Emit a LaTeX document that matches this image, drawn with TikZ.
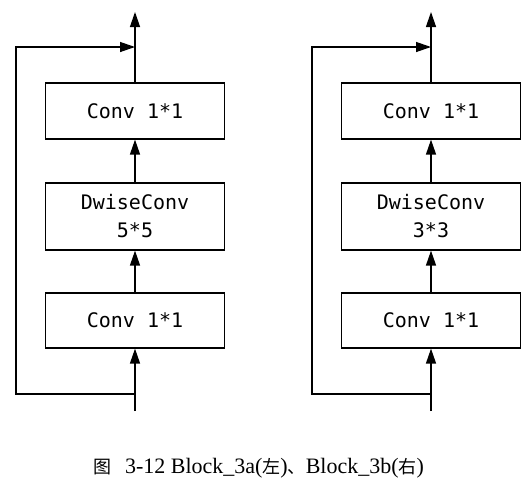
\documentclass[tikz,border=0pt]{standalone}
\usepackage{fontspec}
\setmainfont{Liberation Serif}
\newfontfamily\boxfont{DejaVu Sans Mono}
\newfontfamily\cjk{Noto Sans CJK SC}
\usetikzlibrary{arrows.meta}

\begin{document}
\begin{tikzpicture}[x=1pt,y=-1pt,
    every node/.style={font=\boxfont\fontsize{20}{28}\selectfont},
    conv/.style={draw,line width=1.2pt,minimum width=179pt,inner sep=0pt,align=center},
    flow/.style={line width=1.3pt,-{Triangle[length=15pt,width=10pt]}},
  ]
  \path[use as bounding box] (0,0) rectangle (529,491);
  % Block_3a
  \node[conv,minimum height=55pt] (a1) at (135,320.5) {Conv 1*1};
  \node[conv,minimum height=67pt] (a2) at (135,216.5) {DwiseConv\\5*5};
  \node[conv,minimum height=56pt] (a3) at (135,111) {Conv 1*1};
  \coordinate (ain) at (135,411);
  \coordinate (abot) at (135,394);
  \coordinate (aleft) at (16,394);
  \coordinate (atop) at (135,47);
  \coordinate (aout) at (135,12);
  \draw[flow] (ain) -- (a1);
  \draw[flow] (a1) -- (a2);
  \draw[flow] (a2) -- (a3);
  \draw[flow] (a3) -- (aout);
  \draw[flow] (abot) -- (aleft) |- (atop);
  % Block_3b
  \node[conv,minimum height=55pt] (b1) at (431,320.5) {Conv 1*1};
  \node[conv,minimum height=67pt] (b2) at (431,216.5) {DwiseConv\\3*3};
  \node[conv,minimum height=56pt] (b3) at (431,111) {Conv 1*1};
  \coordinate (bin) at (431,411);
  \coordinate (bbot) at (431,394);
  \coordinate (bleft) at (312,394);
  \coordinate (btop) at (431,47);
  \coordinate (bout) at (431,12);
  \draw[flow] (bin) -- (b1);
  \draw[flow] (b1) -- (b2);
  \draw[flow] (b2) -- (b3);
  \draw[flow] (b3) -- (bout);
  \draw[flow] (bbot) -- (bleft) |- (btop);
  % caption
  \node[font=\rmfamily\fontsize{22}{24}\selectfont] (caption) at (258.5,468)
    {{\cjk\fontsize{18}{20}\selectfont 图}\hspace{14pt}3-12 Block\_3a({\cjk\fontsize{18}{20}\selectfont 左}){\cjk\fontsize{18}{20}\selectfont 、}Block\_3b({\cjk\fontsize{18}{20}\selectfont 右})};
\end{tikzpicture}
\end{document}
